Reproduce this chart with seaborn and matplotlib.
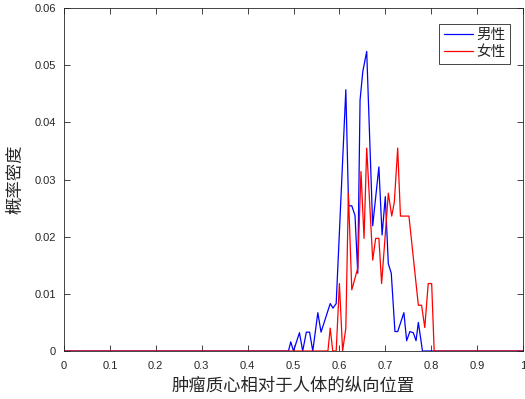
import matplotlib
matplotlib.use("Agg")
import matplotlib.pyplot as plt
import seaborn as sns
import pandas as pd

# ---- data ----
male_x = [0, 0.489, 0.494, 0.500, 0.513, 0.520, 0.528, 0.535, 0.542, 0.553, 0.560,
          0.580, 0.586, 0.593, 0.614, 0.620, 0.627, 0.634, 0.640, 0.645, 0.651,
          0.6595, 0.6725, 0.686, 0.693, 0.700, 0.7065, 0.713, 0.721, 0.727, 0.7405,
          0.7465, 0.7535, 0.761, 0.767, 0.772, 0.781, 1]
male_y = [0, 0, 0.0016, 0, 0.0032, 0, 0.0033, 0.0033, 0, 0.0067, 0.0033,
          0.0083, 0.0075, 0.0083, 0.0457, 0.0254, 0.0254, 0.0237, 0.0136, 0.0439, 0.0489,
          0.0524, 0.0219, 0.0322, 0.0203, 0.0270, 0.0153, 0.0136, 0.0034, 0.0034, 0.0067,
          0.0018, 0.0034, 0.0032, 0.0018, 0.0050, 0, 0]

female_x = [0, 0.575, 0.580, 0.5855, 0.593, 0.600, 0.607, 0.614, 0.6196, 0.627, 0.640,
            0.647, 0.6537, 0.6595, 0.6726, 0.679, 0.686, 0.692, 0.7066, 0.714, 0.7196,
            0.727, 0.733, 0.7515, 0.772, 0.779, 0.786, 0.7935, 0.801, 0.8065, 1]
female_y = [0, 0, 0.0040, 0, 0, 0.0118, 0, 0.0040, 0.0276, 0.0107, 0.0145,
            0.0314, 0.0197, 0.0355, 0.0159, 0.0197, 0.0197, 0.0118, 0.0276, 0.0236, 0.0260,
            0.0355, 0.0236, 0.0236, 0.0080, 0.0080, 0.0041, 0.0118, 0.0118, 0, 0]

series_names = ["男性", "女性"]
series_colors = ["#0000ff", "#ff0000"]
x_ticks = [0, 0.1, 0.2, 0.3, 0.4, 0.5, 0.6, 0.7, 0.8, 0.9, 1]
y_ticks = [0, 0.01, 0.02, 0.03, 0.04, 0.05, 0.06]
x_label = "肿瘤质心相对于人体的纵向位置"
y_label = "概率密度"

df = pd.concat([
    pd.DataFrame({"x": male_x, "y": male_y, "sex": series_names[0]}),
    pd.DataFrame({"x": female_x, "y": female_y, "sex": series_names[1]}),
], ignore_index=True)

sns.set_theme(style="white")
plt.rcParams["font.family"] = ["Liberation Sans", "Noto Sans CJK SC", "DejaVu Sans"]
cjk = ["Noto Sans CJK SC", "DejaVu Sans"]
dark = "#262626"

fig = plt.figure(figsize=(5.25, 3.99), dpi=100)
ax = fig.add_axes([64 / 525, 1 - 351 / 399, 459 / 525, 343 / 399])

sns.lineplot(data=df, x="x", y="y", hue="sex", hue_order=series_names,
             palette=series_colors, estimator=None, sort=False, linewidth=0.9,
             ax=ax, legend=False)

ax.set_xlim(0, 1)
ax.set_ylim(0, 0.06)
ax.set_xticks(x_ticks)
ax.set_yticks(y_ticks)
ax.set_xticklabels([f"{v:g}" for v in x_ticks])
ax.set_yticklabels([f"{v:g}" for v in y_ticks])
ax.tick_params(direction="in", length=4, width=0.6, colors=dark, labelsize=8,
               top=True, right=True, bottom=True, left=True)
ax.tick_params(axis="x", pad=7)
ax.tick_params(axis="y", pad=6)
for s in ax.spines.values():
    s.set_visible(True)
    s.set_color(dark)
    s.set_linewidth(0.6)

ax.set_xlabel(x_label, family=cjk, fontsize=12.5, color=dark, labelpad=4,
              fontweight="light")
ax.set_ylabel(y_label, family=cjk, fontsize=12.5, color=dark, labelpad=7,
              fontweight="light")

handles = [plt.Line2D([], [], color=c, linewidth=0.9) for c in series_colors]
leg = ax.legend(handles, series_names, loc="upper right",
                bbox_to_anchor=(1 - 13 / 459, 1 - 16 / 343), borderaxespad=0,
                prop={"family": cjk, "size": 10.5, "weight": "light"},
                fancybox=False, framealpha=1,
                edgecolor=dark, handlelength=2.0, handletextpad=0.25,
                borderpad=0.3, labelspacing=0.2)
leg.get_frame().set_linewidth(0.6)

fig.savefig("out.png", dpi=100)
